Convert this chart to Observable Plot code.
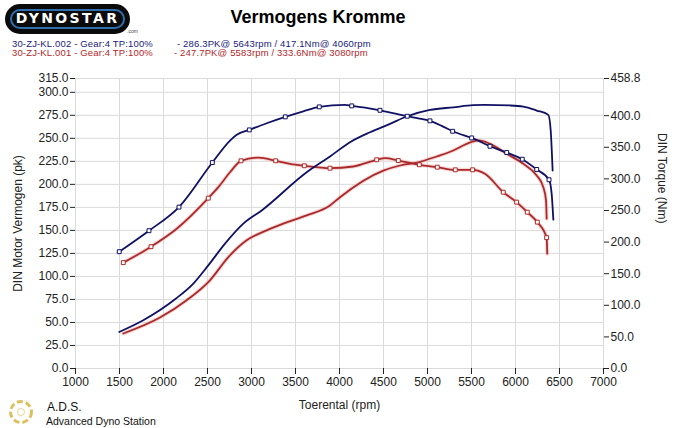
<!DOCTYPE html>
<html>
<head>
<meta charset="utf-8">
<script src="https://cdn.jsdelivr.net/npm/d3@7"></script>
<script src="https://cdn.jsdelivr.net/npm/@observablehq/plot@0.6"></script>
<style>
  html, body { margin: 0; padding: 0; background: #fff; }
  #wrap { position: relative; width: 685px; height: 428px; overflow: hidden; font-family: "Liberation Sans", Arial, sans-serif; }
  #header { position: relative; width: 685px; height: 62px; }
  .abs { position: absolute; white-space: nowrap; }
  #logo { left: 5px; top: 4px; width: 121px; height: 26px; background: #0b0b0b; border-radius: 15px; border: 2px solid #0b0b0b; }
  #logo .ring { position: absolute; left: 3px; top: 3px; right: 3px; bottom: 3px; border: 2px solid #2f6fb0; border-radius: 12px; }
  #logo .txt { position: absolute; left: 0; right: 0; top: 4px; text-align: center; color: #fff; font: bold 14px "DejaVu Sans", sans-serif; letter-spacing: 2.4px; }
  #title { left: 0; width: 636px; top: 7px; text-align: center; font: bold 18px "Liberation Sans", Arial, sans-serif; color: #000; }
  .leg { font: 9.5px "Liberation Sans", Arial, sans-serif; line-height: 9px; letter-spacing: 0.15px; }
</style>
</head>
<body>
<div id="wrap">
  <div id="header">
    <div id="logo" class="abs"><div class="ring"></div><div class="txt">DYNOSTAR</div></div>
    <div class="abs" style="left:127px;top:28px;font:5px 'Liberation Sans';color:#444">.com</div>
    <div id="title" class="abs">Vermogens Kromme</div>
    <div id="leg1a" class="abs leg" style="left:12px;top:38.5px;color:#1a1a7a"></div>
    <div id="leg1b" class="abs leg" style="left:177px;top:38.5px;color:#1a1a7a"></div>
    <div id="leg2a" class="abs leg" style="left:12px;top:48px;color:#b3262a"></div>
    <div id="leg2b" class="abs leg" style="left:174px;top:48px;color:#b3262a"></div>
  </div>
  <div id="chart"></div>
  <svg class="abs" style="left:7px;top:398px" width="28" height="28" viewBox="0 0 28 28">
    <circle cx="14" cy="14" r="10.5" fill="none" stroke="#dcc060" stroke-width="3" stroke-dasharray="6 3"/>
    <circle cx="14" cy="14" r="3.5" fill="none" stroke="#e6d590" stroke-width="1"/>
  </svg>
  <div class="abs" style="left:47px;top:400px;font:12px 'Liberation Sans Narrow','Liberation Sans',sans-serif;color:#111">A.D.S.</div>
  <div class="abs" style="left:46px;top:415px;font:10.5px 'Liberation Sans Narrow','Liberation Sans',sans-serif;color:#111">Advanced Dyno Station</div>
</div>
<script>
// ---- tick labels ----
const rpmTicks = [1000, 1500, 2000, 2500, 3000, 3500, 4000, 4500, 5000, 5500, 6000, 6500, 7000];
const pkTicks = [0, 25, 50, 75, 100, 125, 150, 175, 200, 225, 250, 275, 300, 315];
const nmTicks = [0, 50, 100, 150, 200, 250, 300, 350, 400, 458.8];

// ---- legend texts ----
const runNames = ["30-ZJ-KL.002 - Gear:4 TP:100%", "30-ZJ-KL.001 - Gear:4 TP:100%"];
const runPeaks = ["- 286.3PK@ 5643rpm / 417.1Nm@ 4060rpm", "- 247.7PK@ 5583rpm / 333.6Nm@ 3080rpm"];

// ---- run .002 (blue) ----
const bluePowerRpm = [1497, 1770, 2131, 2339, 2509, 2699, 2907, 3116, 3627, 3892, 4119, 4347, 4574, 4770, 5028, 5293, 5520, 5643, 5938, 6089, 6241, 6373, 6400, 6422];
const bluePowerPk  = [39.7, 52.4, 75.2, 92.2, 112, 135.6, 157.3, 171.7, 213.2, 230.3, 245.8, 256.6, 265.7, 274, 280.9, 283.7, 286, 286.3, 285.7, 284.5, 280.2, 275.5, 258.5, 215];
const blueTorqueRpm = [1497, 1835, 2176, 2555, 2756, 2832, 2975, 3173, 3384, 3589, 3770, 4060, 4139, 4270, 4460, 4650, 4770, 4895, 5028, 5161, 5286, 5407, 5502, 5710, 5900, 6077, 6241, 6381, 6411, 6430];
const blueTorqueNm  = [184.8, 218.0, 255.3, 325.8, 360.6, 369.7, 377.5, 388.0, 398.1, 406.9, 413.9, 417.1, 415.5, 413.2, 408.5, 402.9, 399.1, 395.9, 391.8, 383.9, 375.3, 369.1, 364.8, 351.6, 341.7, 331.1, 314.9, 298.6, 276.4, 235.4];
const blueMarkRpm = [1497, 1835, 2176, 2555, 2975, 3384, 3770, 4139, 4460, 4770, 5028, 5286, 5502, 5710, 5900, 6077, 6241, 6381];
const blueMarkNm  = [184.8, 218.0, 255.3, 325.8, 377.5, 398.1, 413.9, 415.5, 408.5, 399.1, 391.8, 375.3, 364.8, 351.6, 341.7, 331.1, 314.9, 298.6];

// ---- run .001 (red) ----
const redPowerRpm = [1543, 1960, 2263, 2528, 2737, 2945, 3173, 3361, 3627, 3892, 4006, 4498, 4688, 4895, 5104, 5293, 5445, 5583, 5710, 5900, 6089, 6241, 6316, 6347, 6354];
const redPowerPk  = [38, 55.3, 74.1, 95.8, 121, 139.2, 150, 157.3, 166.3, 177.1, 186.1, 215, 220.5, 224, 230.3, 236.8, 244, 247.7, 244, 233.2, 222.3, 209.7, 197, 182.5, 162.7];
const redTorqueRpm = [1543, 1858, 2150, 2509, 2623, 2756, 2881, 3080, 3275, 3438, 3600, 3892, 4157, 4423, 4517, 4668, 4907, 5111, 5316, 5513, 5653, 5861, 6013, 6134, 6248, 6354, 6361];
const redTorqueNm  = [167.5, 192.7, 221.1, 269.5, 286.9, 310.5, 328.6, 333.6, 328.6, 323.8, 320.7, 316.9, 319.6, 330.2, 332.7, 329.0, 322.3, 318.5, 314.3, 314.3, 308.0, 278.9, 263.2, 247.3, 231.6, 207.0, 181.6];
const redMarkRpm = [1543, 1858, 2509, 2881, 3275, 3600, 3892, 4423, 4668, 4907, 5111, 5316, 5513, 5861, 6013, 6134, 6248, 6354];
const redMarkNm  = [167.5, 192.7, 269.5, 328.6, 328.6, 320.7, 316.9, 330.2, 329.0, 322.3, 318.5, 314.3, 314.3, 278.9, 263.2, 247.3, 231.6, 207.0];

// axis extents
const pkMax = 315, nmMax = 458.8;
const nmToPk = v => v * pkMax / nmMax;

const navy = "#111163", red = "#a92a2a", halo = "#f3b8b8", grid = "#dadada";
const rows = (xs, ys) => xs.map((x, i) => ({rpm: x, v: ys[i]}));

document.getElementById("leg1a").textContent = runNames[0];
document.getElementById("leg1b").textContent = runPeaks[0];
document.getElementById("leg2a").textContent = runNames[1];
document.getElementById("leg2b").textContent = runPeaks[1];

const chart = Plot.plot({
  width: 685,
  height: 366,
  marginTop: 16,
  marginBottom: 60,
  marginLeft: 75,
  marginRight: 82,
  x: {domain: [1000, 7000]},
  y: {domain: [0, pkMax]},
  style: {fontFamily: "'Liberation Sans', Arial, sans-serif", fontSize: "12px", color: "#222", background: "#fff", overflow: "visible"},
  marks: [
    Plot.ruleX(rpmTicks, {stroke: grid, strokeWidth: 1}),
    Plot.ruleY(pkTicks, {stroke: grid, strokeWidth: 1}),
    Plot.axisX({ticks: rpmTicks, tickSize: 6, tickPadding: 3, tickFormat: d => String(d), label: "Toerental (rpm)", labelAnchor: "center", labelArrow: "none", labelOffset: 40, style: {letterSpacing: "0.7px"}}),
    Plot.axisY({anchor: "left", ticks: pkTicks, tickSize: 5, tickPadding: 2, tickFormat: d => d.toFixed(1), label: "DIN Motor Vermogen (pk)", labelAnchor: "center", labelArrow: "none", labelOffset: 62, style: {letterSpacing: "0.7px"}}),
    Plot.axisY({anchor: "right", ticks: nmTicks.map(nmToPk), tickSize: 5, tickPadding: 2, tickFormat: d => (d * nmMax / pkMax).toFixed(1), label: null, style: {letterSpacing: "0.7px"}}),
    Plot.text(["DIN Torque (Nm)"], {frameAnchor: "right", dx: 58, rotate: 90, fontSize: 12, fill: "#222"}),
    // red halo (jpeg-like glow)
    Plot.line(rows(redPowerRpm, redPowerPk), {x: "rpm", y: "v", stroke: halo, strokeWidth: 4, strokeOpacity: 0.55, curve: "monotone-x"}),
    Plot.line(rows(redTorqueRpm, redTorqueNm), {x: "rpm", y: d => nmToPk(d.v), stroke: halo, strokeWidth: 4, strokeOpacity: 0.55, curve: "monotone-x"}),
    Plot.line(rows(redPowerRpm, redPowerPk), {x: "rpm", y: "v", stroke: red, strokeWidth: 1.8, curve: "monotone-x"}),
    Plot.line(rows(redTorqueRpm, redTorqueNm), {x: "rpm", y: d => nmToPk(d.v), stroke: red, strokeWidth: 1.8, curve: "monotone-x"}),
    Plot.line(rows(bluePowerRpm, bluePowerPk), {x: "rpm", y: "v", stroke: navy, strokeWidth: 1.8, curve: "monotone-x"}),
    Plot.line(rows(blueTorqueRpm, blueTorqueNm), {x: "rpm", y: d => nmToPk(d.v), stroke: navy, strokeWidth: 1.8, curve: "monotone-x"}),
    Plot.dot(rows(redMarkRpm, redMarkNm), {x: "rpm", y: d => nmToPk(d.v), symbol: "square", r: 2.2, stroke: red, fill: "#fff", strokeWidth: 1}),
    Plot.dot(rows(blueMarkRpm, blueMarkNm), {x: "rpm", y: d => nmToPk(d.v), symbol: "square", r: 2.2, stroke: navy, fill: "#fff", strokeWidth: 1})
  ]
});
document.getElementById("chart").appendChild(chart);
</script>
</body>
</html>
